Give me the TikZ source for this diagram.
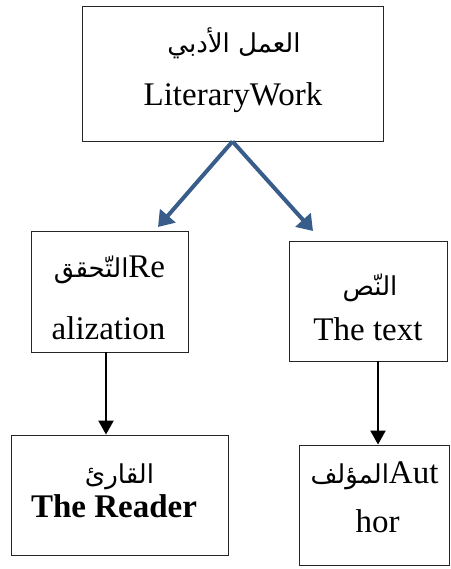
\documentclass[tikz,border=0pt]{standalone}
\usepackage{fontspec}
\setmainfont{Liberation Serif}
\newfontfamily\arabicfont[Script=Arabic]{DejaVu Sans}
\TeXXeTstate=1
\usetikzlibrary{arrows.meta,calc}
\definecolor{linkblue}{HTML}{385D8A}
\newcommand{\arsize}{\arabicfont\fontsize{26}{32}\selectfont}

\begin{document}
\begin{tikzpicture}[x=1pt,y=-1pt,
  box/.style={draw=black!85, line width=0.9pt, inner sep=0pt, rectangle},
  lat/.style={font=\fontsize{33}{40}\selectfont, anchor=base, inner sep=0pt},
  latb/.style={font=\fontsize{33}{40}\selectfont\bfseries, anchor=base, inner sep=0pt},
  ara/.style={font=\arsize, anchor=base, inner sep=0pt},
  bluearrow/.style={draw=linkblue, line width=4pt, -{Triangle[length=15pt,width=20pt]}},
  blackarrow/.style={draw=black, line width=2.2pt, -{Triangle[length=14pt,width=15pt]}}]

\useasboundingbox (0,0) rectangle (450,569);

% boxes
\node[box, minimum width=301pt, minimum height=135pt] (work) at (232.5,73.5) {};
\node[box, minimum width=157pt, minimum height=121pt] (real) at (109.5,291.5) {};
\node[box, minimum width=158pt, minimum height=120pt] (text) at (368,301) {};
\node[box, minimum width=217pt, minimum height=120pt] (reader) at (119.5,495) {};
\node[box, minimum width=150pt, minimum height=120pt] (author) at (374,505) {};

% labels
\node[ara] (workA) at (234,53) {\beginR العمل الأدبي\endR};
\node[lat] (workL) at (233,106) {LiteraryWork};

\node[lat] (realA) at (109.5,277) {{\arsize\beginR التّحقق\endR}Re};
\node[lat] (realL) at (108.5,339) {alization};

\node[ara] (textA) at (370,295) {\beginR النّص\endR};
\node[lat] (textL) at (368,340) {The text};

\node[ara] (readerA) at (119.5,483) {\beginR القارئ\endR};
\node[latb] (readerL) at (114,517) {The Reader};

\node[lat] (authorA) at (374.5,483) {{\arsize\beginR المؤلف\endR}Aut};
\node[lat] (authorL) at (377.5,532) {hor};

% connectors
\coordinate (realTip) at (158,227);
\coordinate (textTip) at (313,231);
\draw[bluearrow] (work.south) -- (realTip);
\draw[bluearrow] (work.south) -- (textTip);

\draw[blackarrow] ([xshift=-3.5pt]real.south) -- ([xshift=-3.5pt]real.south |- reader.north);
\draw[blackarrow] ([xshift=10pt]text.south) -- ([xshift=10pt]text.south |- author.north);
\end{tikzpicture}
\end{document}
